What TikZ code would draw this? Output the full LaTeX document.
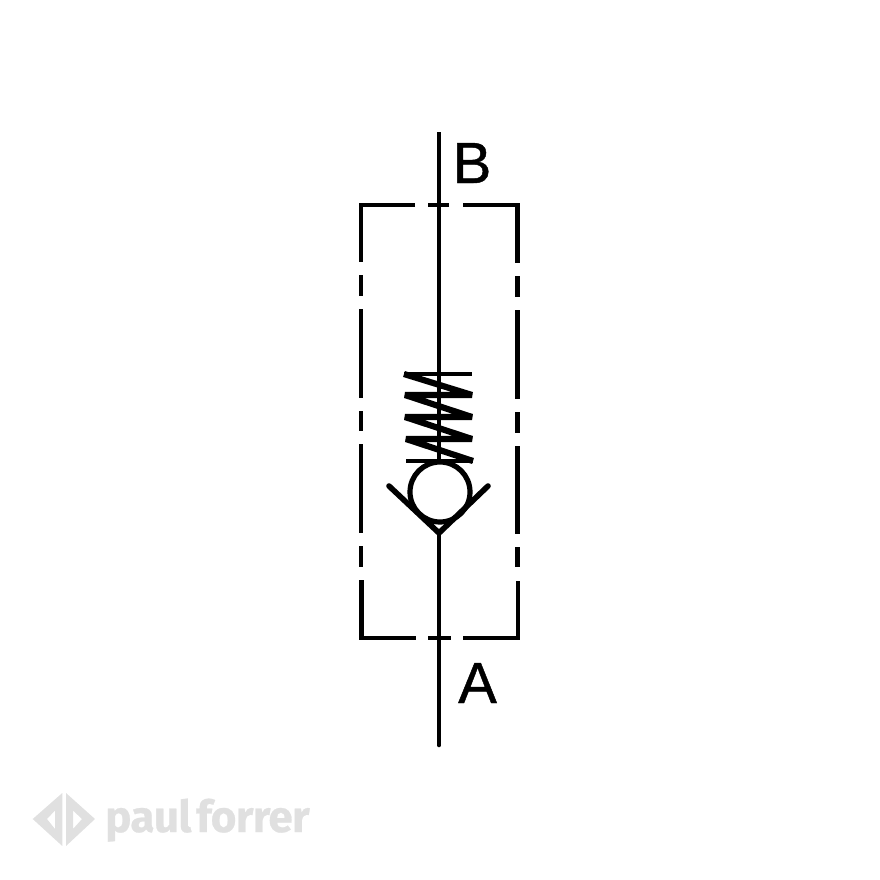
\documentclass[tikz,border=0pt]{standalone}
\usepackage{fontspec}
\setmainfont{Liberation Sans}
\newfontfamily\portfont[FakeBold=0.8]{Liberation Sans}
\newfontfamily\logofont[LetterSpace=-1.5,FakeBold=0.6]{Fira Sans}
\definecolor{logogray}{HTML}{E0E0E0}
\tikzset{
  sym/.style={line width=4.6pt,black},
  dashpart/.style={line width=4.6pt,black,line cap=butt},
  coilpart/.style={line width=6.2pt,black,line join=miter,miter limit=3},
  thinbar/.style={line width=3.6pt,black},
  portlabel/.style={anchor=base west,inner sep=0pt,font=\portfont\fontsize{58}{58}\selectfont},
  logotext/.style={anchor=base west,inner sep=0pt,text=logogray,font=\logofont\bfseries\fontsize{44}{44}\selectfont}
}
\begin{document}
\begin{tikzpicture}[x=1pt,y=-1pt]
\useasboundingbox (0,0) rectangle (880,880);
% frame
\draw[dashpart,line join=miter] (415,205) -- (361,205) -- (361,262);
\draw[dashpart] (428,205) -- (449,205);
\draw[dashpart,line join=miter] (463,205) -- (517.5,205) -- (517.5,263);
\draw[dashpart] (361,275) -- (361,296) (361,309) -- (361,398) (361,411) -- (361,431) (361,444) -- (361,533) (361,546) -- (361,567);
\draw[dashpart] (517.5,276) -- (517.5,297) (517.5,310) -- (517.5,399) (517.5,412) -- (517.5,433) (517.5,446) -- (517.5,534) (517.5,547) -- (517.5,567);
\draw[dashpart,line join=miter] (361.5,580) -- (361.5,638) -- (416,638);
\draw[dashpart] (428,638) -- (451,638);
\draw[dashpart,line join=miter] (463,638) -- (518,638) -- (518,581);
% ball and seat
\node[circle,draw,line width=5.2pt,minimum size=60pt,inner sep=0pt] (ball) at (440,492) {};
\coordinate (seatL) at (389,486);
\coordinate (seatR) at (488,486);
\coordinate (seatV) at (439,533);
\draw[line width=5.6pt,line cap=round,line join=miter] (seatL) -- (seatV) -- (seatR);
% main line
\coordinate (top) at (439,132);
\coordinate (bottom) at (439,745);
\draw[sym,line cap=round] (seatV) -- (bottom);
\draw[sym] (top) -- (ball.north -| top);
% spring
\draw[thinbar] (404,374) -- (472,374);
\draw[thinbar] (406,461) -- (473,461);
\draw[coilpart] (404,374) -- (472,395) -- (405,395) -- (472,417) -- (405,417) -- (472,439) -- (406,439) -- (473,461);
% labels
\node[portlabel] (portB) at (452.5,183) {B};
\node[portlabel] (portA) at (458,703) {A};
% logo
\fill[logogray,even odd rule] (32.7,819) -- (62.3,793) -- (62.3,846) -- cycle (47,819) -- (55,810.5) -- (55,829) -- cycle;
\fill[logogray,even odd rule] (66,793) -- (95,819) -- (66,846) -- cycle (73,810.5) -- (82,819) -- (73,829) -- cycle;
\node[logotext] (logo) at (105,832) {paul\hspace{-5pt} forrer};
\end{tikzpicture}
\end{document}
